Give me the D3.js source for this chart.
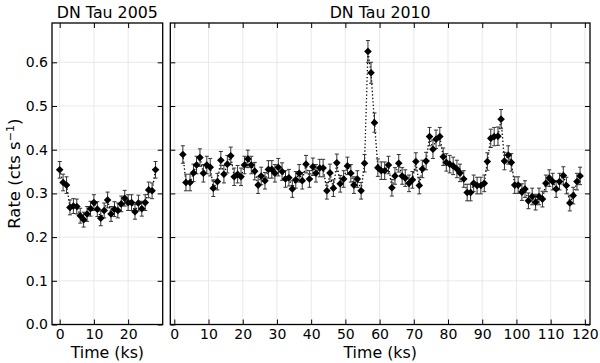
<!DOCTYPE html>
<html>
<head>
<meta charset="utf-8">
<script src="https://cdn.jsdelivr.net/npm/d3@7"></script>
<style>
  body { margin: 0; background: #fff; }
  svg { display: block; font-family: "DejaVu Sans", sans-serif; }
</style>
</head>
<body>
<svg id="chart" width="600" height="363"></svg>
<script>
// 2005 light curve
const t2005 = [0,1,2,3,4,5,6,7,8,9,10,11,12,13,14,15,16,17,18,19,20,21,22,23,24,25,26,27,28];
const rate2005 = [0.354,0.325,0.319,0.268,0.271,0.270,0.249,0.240,0.253,0.265,0.279,0.264,0.243,0.261,0.285,
  0.253,0.264,0.261,0.276,0.289,0.279,0.279,0.258,0.278,0.265,0.279,0.308,0.306,0.354];
const err2005 = [0.019,0.019,0.019,0.017,0.017,0.017,0.017,0.017,0.017,0.017,0.018,0.017,0.017,0.017,0.018,
  0.017,0.017,0.017,0.018,0.018,0.018,0.018,0.017,0.018,0.017,0.018,0.018,0.018,0.019];

// 2010 light curve
const t2010 = [2.5,3.4,4.6,5.6,6.5,7.5,8.5,9.5,10.5,11.4,12.6,13.6,14.5,15.5,16.5,17.5,18.5,19.5,20.5,21.5,
  22.5,23.5,24.5,25.4,26.5,27.5,28.5,29.4,30.4,31.5,32.5,33.5,34.5,35.5,36.5,37.4,38.5,39.5,40.5,41.4,
  42.5,43.5,44.6,45.5,46.5,47.5,48.5,49.5,50.6,51.6,52.5,53.5,54.6,55.6,56.6,57.5,58.5,59.5,
  60.5,61.5,62.6,63.6,64.5,65.6,66.6,67.5,68.6,69.6,70.6,71.6,72.5,73.6,74.6,75.6,76.5,77.6,78.6,79.5,
  80.5,81.5,82.6,83.5,84.6,85.6,86.6,87.5,88.5,89.6,90.6,91.5,92.5,93.5,94.6,95.5,96.5,97.6,98.5,99.5,
  100.5,101.6,102.5,103.5,104.6,105.6,106.6,107.6,108.6,109.6,110.6,111.6,112.6,113.7,114.6,115.6,116.6,117.7,118.6];
const rate2010 = [0.389,0.325,0.325,0.347,0.365,0.382,0.346,0.365,0.360,0.312,0.327,0.376,0.344,0.367,0.386,
  0.338,0.344,0.338,0.365,0.379,0.365,0.351,0.319,0.340,0.329,0.355,0.355,0.346,0.360,0.350,
  0.333,0.336,0.310,0.331,0.346,0.329,0.367,0.333,0.361,0.346,0.358,0.358,0.306,0.347,0.312,
  0.370,0.322,0.333,0.363,0.346,0.319,0.333,0.306,0.369,0.625,0.576,0.462,0.359,
  0.352,0.352,0.365,0.313,0.340,0.369,0.340,0.335,0.323,0.331,0.373,0.318,0.356,0.374,0.430,
  0.401,0.424,0.430,0.384,0.371,0.367,0.363,0.356,0.347,0.333,0.302,0.302,0.323,0.318,0.318,
  0.323,0.373,0.426,0.430,0.431,0.470,0.374,0.388,0.371,0.319,0.319,0.303,0.310,0.283,0.293,
  0.280,0.293,0.287,0.323,0.335,0.327,0.310,0.327,0.341,0.318,0.278,0.295,0.327,0.340];
const err2010 = [0.020,0.019,0.019,0.020,0.020,0.020,0.020,0.020,0.020,0.019,0.019,0.020,0.020,0.020,0.020,
  0.020,0.020,0.020,0.020,0.020,0.020,0.020,0.019,0.020,0.019,0.020,0.020,0.020,0.020,0.020,
  0.019,0.019,0.019,0.019,0.020,0.019,0.020,0.019,0.020,0.020,0.020,0.020,0.019,0.020,0.019,
  0.020,0.019,0.019,0.020,0.020,0.019,0.019,0.019,0.020,0.025,0.024,0.022,0.020,
  0.020,0.020,0.020,0.019,0.019,0.020,0.019,0.019,0.019,0.019,0.020,0.019,0.020,0.020,0.021,
  0.021,0.021,0.021,0.020,0.020,0.020,0.020,0.020,0.020,0.019,0.019,0.019,0.019,0.019,0.019,
  0.019,0.020,0.021,0.021,0.021,0.022,0.020,0.021,0.020,0.019,0.019,0.019,0.019,0.018,0.019,
  0.018,0.019,0.018,0.019,0.019,0.019,0.019,0.019,0.020,0.019,0.018,0.019,0.019,0.020];

const yTicks = [0.0,0.1,0.2,0.3,0.4,0.5,0.6];
const xTicks2005 = [0,10,20];
const xTicks2010 = [0,10,20,30,40,50,60,70,80,90,100,110,120];

const svg = d3.select('#chart');
const yTop = 23, yBottom = 324.5;

let y = d3.scaleLinear().domain([0, 0.69]).range([yBottom, yTop]);

function panel(opts){
  let x = d3.scaleLinear().domain(opts.xDomain).range([opts.left, opts.right]);
  let g = svg.append('g');

  // grid
  g.selectAll('.gx').data(opts.xTicks).enter().append('line')
    .attr('x1', d=>x(d)).attr('x2', d=>x(d)).attr('y1', yTop).attr('y2', yBottom)
    .attr('stroke', '#e3e3e3').attr('stroke-width', 0.8);
  g.selectAll('.gy').data(yTicks).enter().append('line')
    .attr('x1', opts.left).attr('x2', opts.right).attr('y1', d=>y(d)).attr('y2', d=>y(d))
    .attr('stroke', '#e3e3e3').attr('stroke-width', 0.8);

  // axes with inward ticks
  let bot = d3.axisBottom(x).tickValues(opts.xTicks).tickSizeInner(-5).tickSizeOuter(0).tickPadding(5);
  let tp = d3.axisTop(x).tickValues(opts.xTicks).tickSizeInner(-5).tickSizeOuter(0).tickFormat('');
  let lf = d3.axisLeft(y).tickValues(yTicks).tickSizeInner(-5).tickSizeOuter(0).tickPadding(4)
    .tickFormat(opts.yLabels ? d3.format('.1f') : '');
  let rt = d3.axisRight(y).tickValues(yTicks).tickSizeInner(-5).tickSizeOuter(0).tickFormat('');

  [[bot, `translate(0,${yBottom})`], [tp, `translate(0,${yTop})`],
   [lf, `translate(${opts.left},0)`], [rt, `translate(${opts.right},0)`]].forEach(([ax, tr])=>{
    let a = g.append('g').attr('transform', tr).call(ax);
    a.select('.domain').remove();
    a.selectAll('.tick line').attr('stroke', '#000').attr('stroke-width', 1);
    a.selectAll('text').attr('font-size', 14).attr('fill', '#000')
      .attr('font-family', '"DejaVu Sans", sans-serif');
  });

  // data
  let pts = opts.t.map((t, i)=>({t, r: opts.rate[i], e: opts.err[i]}));
  let clip = 'clip' + opts.id;
  svg.append('clipPath').attr('id', clip).append('rect')
    .attr('x', opts.left).attr('y', yTop).attr('width', opts.right-opts.left).attr('height', yBottom-yTop);
  let dg = g.append('g').attr('clip-path', `url(#${clip})`);

  dg.append('path').datum(pts)
    .attr('d', d3.line().x(d=>x(d.t)).y(d=>y(d.r)))
    .attr('fill', 'none').attr('stroke', '#000').attr('stroke-width', 1.3)
    .attr('stroke-dasharray', '1.3,2.2');

  let eb = dg.selectAll('.eb').data(pts).enter().append('g').attr('stroke', '#333').attr('stroke-width', 1);
  eb.append('line').attr('x1', d=>x(d.t)).attr('x2', d=>x(d.t))
    .attr('y1', d=>y(d.r-d.e)).attr('y2', d=>y(d.r+d.e));
  eb.append('line').attr('x1', d=>x(d.t)-2).attr('x2', d=>x(d.t)+2)
    .attr('y1', d=>y(d.r-d.e)).attr('y2', d=>y(d.r-d.e));
  eb.append('line').attr('x1', d=>x(d.t)-2).attr('x2', d=>x(d.t)+2)
    .attr('y1', d=>y(d.r+d.e)).attr('y2', d=>y(d.r+d.e));

  let s = 3.8;
  dg.selectAll('.mk').data(pts).enter().append('path')
    .attr('d', d=>`M${x(d.t)},${y(d.r)-s}L${x(d.t)+s},${y(d.r)}L${x(d.t)},${y(d.r)+s}L${x(d.t)-s},${y(d.r)}Z`)
    .attr('fill', '#000');

  // frame
  g.append('rect').attr('x', opts.left).attr('y', yTop)
    .attr('width', opts.right-opts.left).attr('height', yBottom-yTop)
    .attr('fill', 'none').attr('stroke', '#000').attr('stroke-width', 1.3);

  let cx = (opts.left+opts.right)/2;
  g.append('text').attr('x', cx).attr('y', 18).attr('text-anchor', 'middle')
    .attr('font-size', 15.8).text(opts.title);
  g.append('text').attr('x', cx).attr('y', 358).attr('text-anchor', 'middle')
    .attr('font-size', 15.8).text('Time (ks)');
}

panel({id: 'a', t: t2005, rate: rate2005, err: err2005, xDomain: [-2.25, 30.1], left: 52, right: 162.7,
  xTicks: xTicks2005, yLabels: true, title: 'DN Tau 2005'});
panel({id: 'b', t: t2010, rate: rate2010, err: err2010, xDomain: [-1.17, 121.5], left: 170.3, right: 590,
  xTicks: xTicks2010, yLabels: false, title: 'DN Tau 2010'});

// y label
let yl = svg.append('text').attr('transform', `translate(20,${(yTop+yBottom)/2}) rotate(-90)`)
  .attr('text-anchor', 'middle').attr('font-size', 16.5);
yl.append('tspan').text('Rate (cts s');
yl.append('tspan').attr('dy', -6.5).attr('font-size', 11).text('\u22121');
yl.append('tspan').attr('dy', 6.5).text(')');
</script>
</body>
</html>
